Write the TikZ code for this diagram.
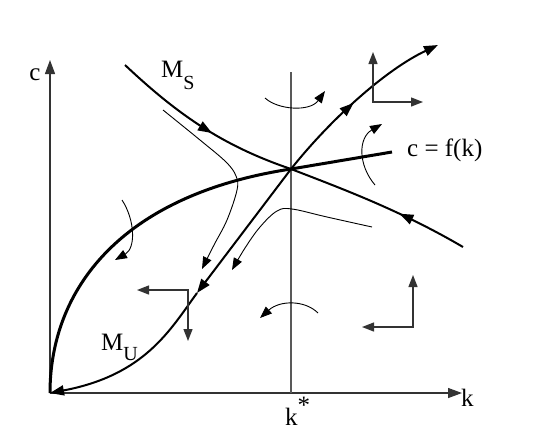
\documentclass[tikz,border=0pt]{standalone}
\usepackage{fontspec}
\setmainfont{Liberation Serif}
\usetikzlibrary{arrows.meta, decorations.markings}

\begin{document}
\begin{tikzpicture}[
    x=1pt, y=-1pt,
    every node/.style={font=\fontsize{25}{29}\selectfont, inner sep=0pt},
    >={Triangle[length=14pt, width=10pt]},
    axis/.style={line width=1.3pt, draw=black!80, ->},
    arm/.style={line width=2pt},
    fk/.style={line width=3pt},
    traj/.style={line width=0.9pt, ->, >={Triangle[length=12pt, width=9pt]}},
    dir/.style={line width=1.3pt, draw=black!80, <->, >={Triangle[length=12pt, width=9pt]}},
    midarrow/.style={postaction={decorate},
      decoration={markings, mark=at position #1 with {\arrow{>}}}},
  ]
  \useasboundingbox (0,0) rectangle (534,440);

  % axes and steady state
  \coordinate (O)    at (50,393);
  \coordinate (ctop) at (50,60);
  \coordinate (kend) at (462,393);
  \coordinate (ss)   at (291,169);
  \coordinate (kst)  at (291,72);
  \coordinate (kbot) at (291,393);
  \draw[axis] (O) -- (ctop);
  \draw[axis] (O) -- (kend);
  \draw[line width=1.3pt, draw=black!65] (kst) -- (kbot);
  \node (clab) at (35,75) {c};
  \node[anchor=base west] (klab) at (461,406) {k};
  \node[anchor=base west] (kstar) at (285,425) {k\raisebox{0.45em}{*}};

  % c = f(k)
  \coordinate (fkend) at (392,152);
  \draw[fk] (O) .. controls (50,290) and (120,195) .. (ss) -- (fkend);
  \node[anchor=base west] (fklab) at (407,156) {c = f(k)};

  % stable arm
  \coordinate (ms1) at (125,65);
  \coordinate (ms2) at (463,247);
  \draw[arm, midarrow=0.56] (ms1) .. controls (175,112) and (220,145) .. (ss);
  \draw[arm, midarrow=0.38] (ms2) .. controls (400,210) and (340,188) .. (ss);
  \node[anchor=base west] (mslab) at (161,77)
    {M\raisebox{-0.48em}{\fontsize{20}{22}\selectfont S}};

  % unstable arm
  \coordinate (mu1) at (197,293);
  \coordinate (mu2) at (438,45);
  \draw[arm, ->] (ss) -- (mu1);
  \draw[arm, ->] (mu1) .. controls (170,330) and (145,375) .. (O);
  \draw[arm, ->, midarrow=0.47] (ss) .. controls (330,120) and (385,70) .. (mu2);
  \node[anchor=base west] (mulab) at (101,350)
    {M\raisebox{-0.42em}{\fontsize{20}{22}\selectfont U}};

  % other paths
  \coordinate (tr1) at (163,110);
  \coordinate (tr1end) at (202,269);
  \coordinate (tr2) at (372,227);
  \coordinate (tr2end) at (232,270);
  \draw[traj] plot[smooth, tension=0.6] coordinates {(tr1) (200,140) (226,162)
    (236,176) (237,190) (227,220) (214,245) (tr1end)};
  \draw[traj] plot[smooth, tension=0.6] coordinates {(tr2) (327,217) (292,209)
    (277,211) (260,227) (245,248) (tr2end)};

  % crossings of the loci
  \coordinate (a1) at (265,98);  \coordinate (b1) at (325,91);
  \coordinate (a2) at (375,185); \coordinate (b2) at (382,124);
  \coordinate (a3) at (122,200); \coordinate (b3) at (115,260);
  \coordinate (a4) at (318,313); \coordinate (b4) at (260,318);
  \draw[traj] (a1) .. controls (278,110) and (310,112) .. (b1);
  \draw[traj] (a2) .. controls (358,165) and (358,138) .. (b2);
  \draw[traj] (a3) .. controls (135,220) and (136,248) .. (b3);
  \draw[traj] (a4) .. controls (305,300) and (280,300) .. (b4);

  % directions of motion
  \foreach \cx/\cy/\dx/\dy [count=\i] in {373/102/50/-50, 188/290/-51/51, 413/327/-51/-52}{
    \coordinate (v\i) at (\cx,\cy+\dy);
    \coordinate (h\i) at (\cx+\dx,\cy);
    \draw[dir] (v\i) |- (h\i);
  }
\end{tikzpicture}
\end{document}
